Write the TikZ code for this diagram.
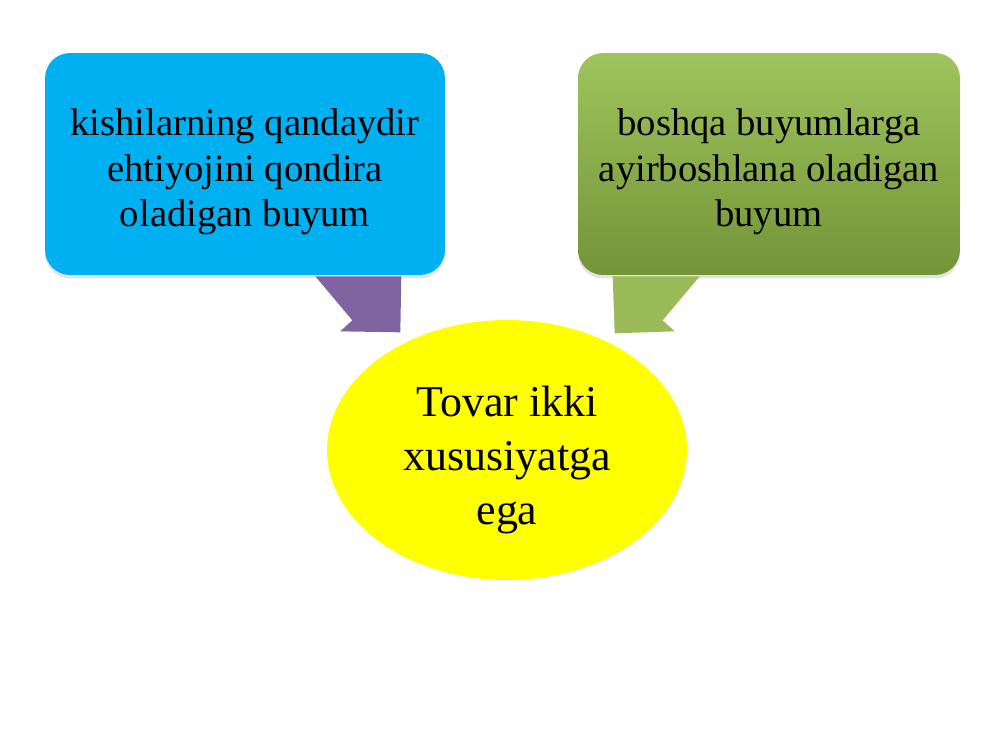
\documentclass[tikz,border=0pt]{standalone}
\usepackage{fontspec}
\setmainfont{Liberation Serif}
\usetikzlibrary{shapes.geometric,shadows,calc}
\definecolor{boxblue}{RGB}{0,176,240}
\definecolor{greentop}{RGB}{158,196,92}
\definecolor{greenbot}{RGB}{116,148,56}
\definecolor{pointpurple}{RGB}{128,100,162}
\definecolor{pointgreen}{RGB}{155,187,89}
\definecolor{ovalyellow}{RGB}{255,255,0}
% text block moved down inside its shape
\newcommand{\lowtext}[2]{\raisebox{-#1}[\height][\depth]{\begin{tabular}{@{}c@{}}#2\end{tabular}}}
\tikzset{
	infobox/.style={rectangle, rounded corners=0.5cm,
		minimum height=4.44cm, inner sep=0pt,
		font=\fontsize{22}{25.8}\selectfont,
		drop shadow={shadow xshift=0pt, shadow yshift=-0.07cm, opacity=0.22}},
	mainoval/.style={ellipse, fill=ovalyellow,
		minimum width=7.2cm, minimum height=5.2cm, inner sep=0pt,
		font=\fontsize{25}{30.7}\selectfont}
}
\begin{document}
\begin{tikzpicture}[x=0.02cm,y=-0.02cm]
	\useasboundingbox (0,0) rectangle (1000,750);
	\node[infobox, fill=boxblue, minimum width=8cm] (kish) at (245,164)
		{\lowtext{4.6pt}{kishilarning qandaydir\\ehtiyojini qondira\\oladigan buyum}};
	\node[infobox, top color=greentop, bottom color=greenbot, minimum width=7.64cm] (boshqa) at (769,164)
		{\lowtext{4.6pt}{boshqa buyumlarga\\ayirboshlana oladigan\\buyum}};
	\node[mainoval] (tovar) at (507,450) {\lowtext{5.7pt}{Tovar ikki\\xususiyatga\\ega}};
	\fill[pointpurple]
		($(kish.south east)+(-130,1)$) --
		($(kish.south east)+(-93,45)$) --
		($(kish.south east)+(-105,56)$) --
		($(kish.south east)+(-45,57)$) --
		($(kish.south east)+(-44,1)$) -- cycle;
	\fill[pointgreen]
		($(boshqa.south west)+(35,1)$) --
		($(boshqa.south west)+(37,58)$) --
		($(boshqa.south west)+(97,56)$) --
		($(boshqa.south west)+(85,45)$) --
		($(boshqa.south west)+(122,1)$) -- cycle;
\end{tikzpicture}
\end{document}
